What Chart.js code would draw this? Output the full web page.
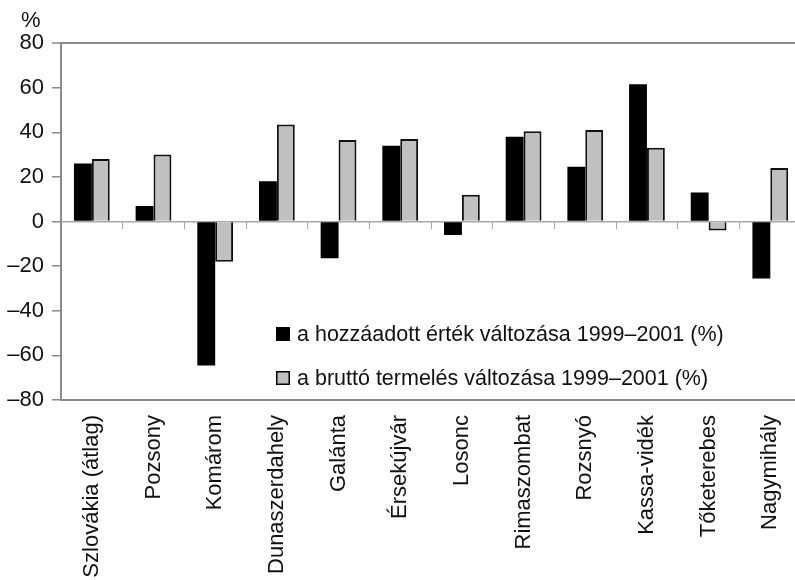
<!DOCTYPE html>
<html>
<head>
<meta charset="utf-8">
<script src="https://cdn.jsdelivr.net/npm/chart.js@4/dist/chart.umd.min.js"></script>
<style>
  html, body { margin: 0; padding: 0; overflow: hidden; background: #fff; }
  #wrap { width: 812px; height: 580px; position: relative; }
</style>
</head>
<body>
<div id="wrap"><canvas id="c" width="812" height="580"></canvas></div>
<script>
const categories = ['Szlovákia (átlag)', 'Pozsony', 'Komárom', 'Dunaszerdahely', 'Galánta', 'Érsekújvár', 'Losonc', 'Rimaszombat', 'Rozsnyó', 'Kassa-vidék', 'Tőketerebes', 'Nagymihály'];
const addedValueChange = [26, 7, -64.5, 18, -16.5, 34, -6, 38, 24.5, 61.5, 13, -25.5];
const grossOutputChange = [28, 30, -18, 43.5, 36.5, 37, 12, 40.5, 41, 33, -4, 24];
const seriesNames = ['a hozzáadott érték változása 1999–2001 (%)', 'a bruttó termelés változása 1999–2001 (%)'];
const yMin = -80, yMax = 80, yStep = 20;
const unitLabel = '%';

const FONT = '"Liberation Sans", Arial, sans-serif';
const AXIS_GRAY = '#8a8a8a';

const decorations = {
  id: 'decorations',
  afterDraw(chart) {
    const ctx = chart.ctx;
    const a = chart.chartArea;
    ctx.save();
    // unit label above the value axis
    ctx.font = '22px ' + FONT;
    ctx.fillStyle = '#111';
    ctx.textAlign = 'left';
    ctx.textBaseline = 'alphabetic';
    ctx.fillText(unitLabel, chart.scales.y.left + 21, a.top - 16);
    // legend inside the plot area
    const x0 = a.left + 215;
    const rows = [a.top + 291, a.top + 335];
    ctx.font = '21.5px ' + FONT;
    ctx.textBaseline = 'middle';
    chart.data.datasets.forEach((ds, i) => {
      const y = rows[i];
      ctx.fillStyle = ds.backgroundColor;
      ctx.fillRect(x0, y - 7, 14, 14);
      ctx.lineWidth = 1.5;
      ctx.strokeStyle = '#000';
      ctx.strokeRect(x0 + 0.75, y - 6.25, 12.5, 12.5);
      ctx.fillStyle = '#111';
      ctx.fillText(ds.label, x0 + 21, y + 1);
    });
    ctx.restore();
  }
};

new Chart(document.getElementById('c'), {
  type: 'bar',
  data: {
    labels: categories,
    datasets: [
      { label: seriesNames[0], data: addedValueChange, backgroundColor: '#000000', borderColor: '#000000', borderWidth: 0 },
      { label: seriesNames[1], data: grossOutputChange, backgroundColor: '#c0c0c0', borderColor: '#111111', borderWidth: 2 }
    ]
  },
  options: {
    responsive: false,
    animation: false,
    events: [],
    layout: { padding: { left: 0, right: 7, top: 43, bottom: 0 } },
    datasets: { bar: { categoryPercentage: 0.58, barPercentage: 1.0 } },
    plugins: {
      legend: { display: false },
      tooltip: { enabled: false },
      title: { display: false }
    },
    scales: {
      x: {
        type: 'category',
        grid: { display: false, drawTicks: false },
        border: { display: true, color: AXIS_GRAY, width: 2 },
        ticks: {
          color: '#111', minRotation: 90, maxRotation: 90, padding: 15, autoSkip: false,
          font: { family: FONT, size: 22 }
        },
        afterFit(s) { s.height = 180; }
      },
      x2: {
        type: 'category',
        position: { y: 0 },
        offset: true,
        grid: { display: true, drawOnChartArea: false, offset: true, tickLength: 7, color: '#a8a8a8', lineWidth: 1 },
        border: { display: false },
        ticks: { display: false }
      },
      y: {
        min: yMin, max: yMax,
        grid: {
          drawOnChartArea: true,
          tickLength: 9,
          color: (c) => (c.tick && (c.tick.value === yMax)) ? AXIS_GRAY : (c.tick && c.tick.value === 0 ? '#a8a8a8' : 'rgba(0,0,0,0)'),
          lineWidth: (c) => (c.tick && c.tick.value === yMax) ? 2 : 1.5,
          tickColor: AXIS_GRAY,
          tickWidth: 1.5
        },
        border: { display: true, color: AXIS_GRAY, width: 2 },
        ticks: {
          stepSize: yStep, padding: 8, color: '#111',
          font: { family: FONT, size: 22 },
          callback: (v) => (v < 0 ? '\u2013' + Math.abs(v) : String(v))
        },
        afterFit(s) { s.width = 61; }
      }
    }
  },
  plugins: [decorations]
});
</script>
</body>
</html>
